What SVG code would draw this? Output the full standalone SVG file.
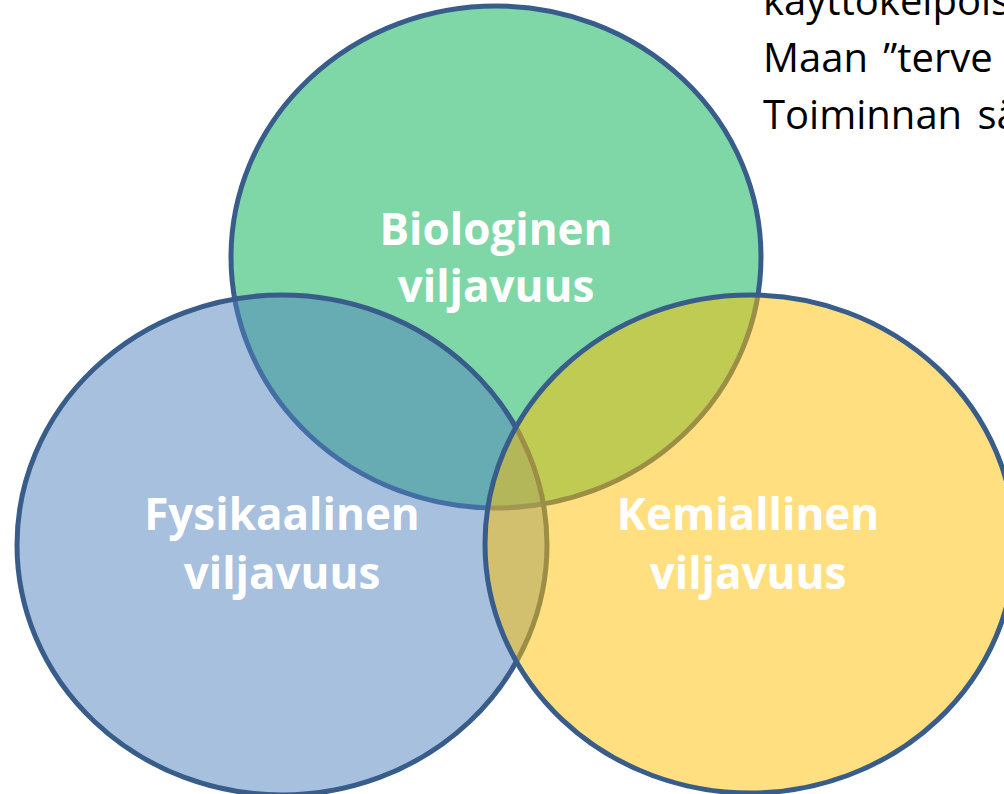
<svg xmlns="http://www.w3.org/2000/svg" width="1004" height="794" viewBox="0 0 1004 794">
<style>
.c{stroke:#385D8A;stroke-width:5;fill-opacity:0.5}
.lbl{font-family:"Open Sans","Liberation Sans",sans-serif;font-weight:bold;font-size:44px;fill:#FFFFFF;text-anchor:middle}
.body{font-family:"Open Sans","Liberation Sans",sans-serif;font-size:40px;fill:#000000;word-spacing:5px}
</style>
<rect width="1004" height="794" fill="#FFFFFF"/>
<g id="notes">
<text class="body" x="763" y="15">käyttökelpois</text>
<text class="body" x="763" y="72">Maan ”terve</text>
<text class="body" x="763" y="129">Toiminnan sä</text>
</g>
<g id="biologinen">
<ellipse class="c" cx="496" cy="257" rx="265" ry="251" fill="#00B050"/>
</g>
<g id="fysikaalinen">
<ellipse class="c" cx="282" cy="545" rx="265" ry="250" fill="#4F81BD"/>
</g>
<g id="kemiallinen">
<ellipse class="c" cx="750" cy="544" rx="265" ry="249" fill="#FFC000"/>
</g>
<g id="labels">
<text class="lbl" x="496" y="245">Biologinen</text>
<text class="lbl" x="496" y="302">viljavuus</text>
<text class="lbl" x="282" y="530">Fysikaalinen</text>
<text class="lbl" x="282" y="589">viljavuus</text>
<text class="lbl" x="748" y="530">Kemiallinen</text>
<text class="lbl" x="748" y="589">viljavuus</text>
</g>
</svg>
